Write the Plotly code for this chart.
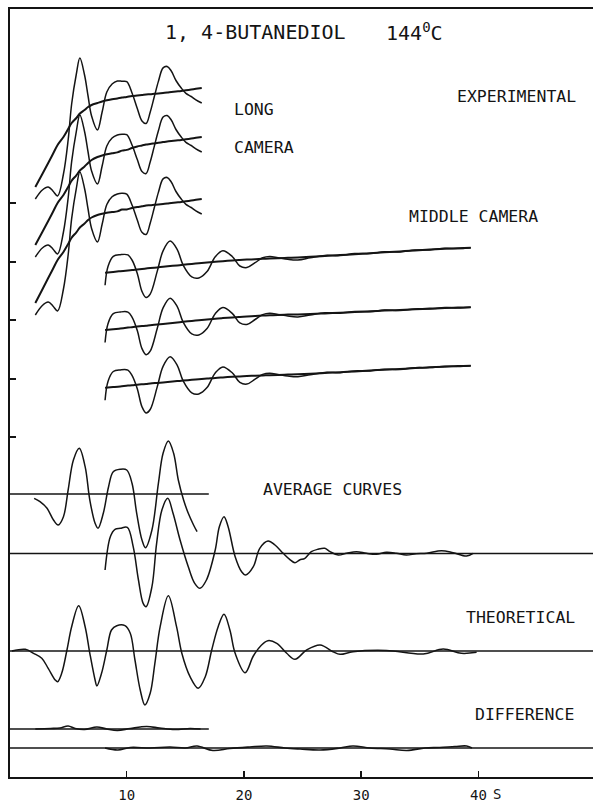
import numpy as np
import plotly.graph_objects as go

# ---------------- data (vertical units: arbitrary) ----------------
# Long camera: three experimental plates, total intensity = background + molecular part
long_s = [2.2, 2.8, 3.3, 3.7, 4.1, 4.6, 5.0, 5.3, 5.7, 6.0, 6.4, 6.7, 7.0, 7.5, 7.9, 8.3, 8.75, 9.2,
          9.6, 10.0, 10.45, 10.9, 11.3, 11.65, 12.0, 12.35, 12.7, 13.1, 13.45, 13.8, 14.2, 14.65,
          15.05, 15.5, 15.9, 16.4]
long_mol = [-12, -16, -24, -37, -51, -37, -11, 19, 44, 55.5, 35, 11, -11, -27, -10.5, 8.3, 15.3, 17.4,
            16.3, 15.2, 3, -13, -26, -29, -18, -3, 12, 25, 26, 21, 11, 3, -3, -7, -11, -15]
long_bg1 = [590, 603, 614, 623, 632, 640, 648, 654, 659, 663.5, 667, 670, 672, 674, 675.5, 676.7, 677.7,
            678.6, 679.4, 680.1, 681, 681.5, 682, 682.5, 682.8, 683.2, 683.6, 684.1, 684.5, 685, 685.5,
            686, 686.7, 687.5, 688.2, 689]
long_bg2 = [532, 545, 556, 565, 574, 582, 590, 596.3, 601.7, 606.5, 610.5, 614, 617, 620, 621.5, 622.7,
            623.7, 624.6, 626.4, 627.1, 629, 630.5, 631.5, 632.5, 633, 633.6, 634.2, 634.9, 635.5, 636,
            636.5, 637, 637.7, 638.5, 639.2, 640]
long_bg3 = [474, 487.5, 499, 508, 517, 525, 533, 539.3, 544.7, 549.5, 553.5, 557, 559.5, 562, 563.2,
            564.2, 564.9, 565.6, 567.4, 567.6, 569, 570, 570.7, 571.5, 571.8, 572.2, 572.6, 573.1, 573.5,
            574, 574.5, 575, 575.7, 576.5, 577.2, 578]

# Middle camera: three experimental plates
mid_s = [8.15, 8.4, 8.85, 9.45, 10.1, 10.45, 10.9, 11.3, 11.65, 12.0, 12.6, 13.1, 13.7, 14.3, 14.8,
         15.55, 16.15, 16.85, 17.55, 18.2, 19.0, 19.65, 20.25, 20.95, 21.6, 22.2, 22.9, 23.75, 24.6,
         25.65, 26.9, 28.2, 29.45, 30.75, 32.0, 33.3, 34.6, 35.85, 37.15, 38.25, 39.35]
mid_mol = [-12.5, 6, 15.5, 16.5, 15.5, 10, -4, -22.5, -29, -26, -4, 16, 25, 16, 0, -13, -14.7, -9, 5,
           10.5, 4, -6, -8, -3.5, 1, 2, 0.5, -1.5, -2.5, -1, 0.6, -0.5, 0.6, -0.4, 0.5, -0.5, 0.4,
           -0.3, 0.5, -0.4, 0]
mid_bg1 = [504.3, 504.6, 505.1, 505.8, 506.6, 507.0, 507.6, 508.1, 508.5, 508.9, 509.6, 510.2, 510.9,
           511.6, 512.2, 513.1, 513.8, 514.5, 515.2, 515.8, 516.5, 517.0, 517.4, 517.8, 518.2, 518.5,
           518.8, 519.2, 519.6, 520.2, 521.0, 521.9, 522.8, 523.8, 524.7, 525.6, 526.5, 527.4, 528.2,
           528.8, 529.3]
mid_bg2 = [447.0, 447.3, 447.8, 448.5, 449.4, 449.8, 450.4, 450.9, 451.3, 451.8, 452.5, 453.1, 453.8,
           454.6, 455.2, 456.1, 456.8, 457.5, 458.3, 458.9, 459.6, 460.1, 460.5, 461.0, 461.4, 461.7,
           462.1, 462.4, 462.6, 463.0, 463.6, 464.3, 464.9, 465.7, 466.4, 467.0, 467.7, 468.4, 468.9,
           469.4, 469.7]
mid_bg3 = [389.3, 389.6, 390.0, 390.6, 391.4, 391.7, 392.3, 392.7, 393.0, 393.5, 394.1, 394.6, 395.2,
           395.9, 396.4, 397.2, 397.8, 398.4, 399.1, 399.6, 400.2, 400.6, 400.9, 401.3, 401.6, 401.8,
           402.1, 402.5, 402.8, 403.3, 404.0, 404.8, 405.5, 406.5, 407.3, 408.0, 408.9, 409.7, 410.3,
           410.9, 411.3]

# Average curves (values relative to their own base lines)
avgL_base = 283
avgL_s = [2.1, 2.6, 3.2, 3.75, 4.15, 4.6, 5.0, 5.45, 5.95, 6.45, 6.85, 7.3, 7.55, 8.0, 8.45, 8.85,
          9.45, 10.0, 10.45, 10.85, 11.3, 11.6, 12.15, 12.7, 13.1, 13.55, 14.0, 14.4, 14.85, 15.25,
          15.7, 16.0]
avgL_val = [-4.3, -7.7, -14.3, -26, -31, -22.7, 4, 34, 45.7, 27.3, -6, -29.3, -34.3, -19.3, 7.3, 22.3,
            24.7, 24, 10.7, -19.3, -46, -53.7, -36, 10.7, 40.7, 53, 40.7, 14, -6, -19.3, -31, -37.7]

avgM_base = 223.5
avgM_s = [8.15, 8.6, 9.0, 9.45, 10.05, 10.55, 11.0, 11.4, 11.65, 12.15, 12.55, 13.0, 13.5, 13.95,
          14.55, 15.25, 15.8, 16.25, 16.8, 17.55, 17.9, 18.3, 18.65, 19.25, 19.8, 20.15, 20.8, 21.35,
          22.05, 22.65, 23.35, 23.9, 24.35, 24.75, 25.2, 25.75, 26.3, 26.9, 27.35, 28.05, 28.75, 29.6,
          30.45, 31.3, 32.15, 33.0, 33.85, 34.7, 35.6, 36.85, 37.85, 39.0, 39.55]
avgM_val = [-16.5, 16.8, 24.2, 25.2, 26.2, 6.8, -26.5, -49.8, -53.2, -33.2, 10.2, 43.5, 55.2, 40.2,
            13.5, -13.2, -29.8, -34.8, -26.5, 3.5, 26.8, 36.8, 26.8, -3.2, -18.2, -21.5, -13.2, 5.2,
            12.5, 8.5, 0.2, -5.8, -9.2, -6.5, -4.8, 1.8, 4.2, 5.2, 1.8, -1.5, 0.2, 1.8, 0.2, -0.8, 1.2,
            0.3, -1.5, -0.3, 0.2, 2.8, 0.8, -2.5, 0.2]

# Theoretical curve
theo_base = 126
theo_s = [0.2, 1.35, 2.05, 2.75, 3.3, 3.9, 4.1, 4.45, 4.9, 5.3, 5.9, 6.45, 6.85, 7.3, 7.45, 7.85, 8.3,
          8.7, 9.15, 9.85, 10.3, 10.7, 11.15, 11.55, 12.0, 12.4, 12.85, 13.55, 14.25, 14.7, 15.4, 16.1,
          16.7, 17.25, 17.8, 18.3, 18.8, 19.25, 20.1, 20.8, 21.5, 22.05, 22.8, 23.65, 24.35, 25.35,
          26.5, 27.6, 28.2, 29.3, 32.15, 35.3, 37.0, 38.55, 39.85]
theo_val = [0, 1.7, -2.3, -7.3, -17.3, -29, -30.7, -22.3, 1, 24.3, 45.3, 24.3, -2.3, -29, -35, -22.3,
            1, 21, 25.3, 25.3, 17.7, -9, -39, -54, -42.3, -12.3, 24.3, 55.3, 24.3, -2.3, -25.7, -37.3,
            -25.7, 1, 24.3, 36.7, 21, -2.3, -21.7, -5, 6, 10.3, 7.7, -2.3, -8.3, 1, 6, -0.7, -3.3,
            -0.7, 0.5, -3, 2, -2.3, -1.3]

# Difference curves
diffL_base = 48
diffL_s = [2.2, 3.5, 4.3, 5.0, 5.6, 6.4, 7.45, 8.3, 9.2, 10.3, 11.7, 12.8, 14.1, 15.4, 16.3]
diffL_val = [0, 0.5, 1, 3, 0.5, -0.5, 2, 0, -1.5, 0.5, 2.5, 1, -0.5, 0.5, 0]
diffM_base = 29
diffM_s = [8.15, 9.25, 10.3, 12.0, 13.7, 15.0, 16.0, 17.35, 18.8, 20.5, 21.95, 23.5, 24.8, 26.5,
           28.2, 29.3, 30.75, 32.45, 33.9, 35.45, 36.7, 38.0, 39.0, 39.45]
diffM_val = [0, -2, 0.5, 0, 1, 0, 2, -2.5, -0.5, 1, 2, 0, -1, -2, 0, 2, 0, -1, -2.5, 0, 0.5, 1.5, 2, 0]

# base-line extents (s)
short_base_end = 17.0
x_range = [0.04, 49.78]
y_ticks = [340, 398, 457, 515, 574]
x_ticks = [10, 20, 30, 40]
x_ticktext = ["10", "20", "30", "40"]

# ---------------- figure ----------------
INK = "#141414"
FONT = "DejaVu Sans Mono"
fig = go.Figure()


def curve(xs, ys, w=1.5):
    fig.add_trace(go.Scatter(x=xs, y=ys, mode="lines", line=dict(color=INK, width=w, shape="spline"),
                             hoverinfo="skip", showlegend=False))


def straight(x0, x1, yv, w=1.7):
    fig.add_trace(go.Scatter(x=[x0, x1], y=[yv, yv], mode="lines", line=dict(color=INK, width=w),
                             hoverinfo="skip", showlegend=False))


mol_l = np.array(long_mol)
for bg in (long_bg1, long_bg2, long_bg3):
    curve(long_s, np.array(bg) + mol_l, 1.5)
    curve(long_s, bg, 2.0)

mol_m = np.array(mid_mol)
for bg in (mid_bg1, mid_bg2, mid_bg3):
    curve(mid_s, np.array(bg) + mol_m, 1.5)
    curve(mid_s, bg, 2.0)

straight(x_range[0], short_base_end, avgL_base)
curve(avgL_s, avgL_base + np.array(avgL_val))
straight(x_range[0], x_range[1], avgM_base)
curve(avgM_s, avgM_base + np.array(avgM_val))

straight(x_range[0], x_range[1], theo_base)
curve(theo_s, theo_base + np.array(theo_val))

straight(x_range[0], short_base_end, diffL_base)
curve(diffL_s, diffL_base + np.array(diffL_val), 1.6)
straight(x_range[0], x_range[1], diffM_base)
curve(diffM_s, diffM_base + np.array(diffM_val), 1.6)

labels = [
    ("1, 4-BUTANEDIOL", 13.1, 745, 20),
    ("144<sup>0</sup>C", 31.94, 745, 20),
    ("LONG", 18.98, 668, 16.5),
    ("CAMERA", 18.98, 630, 16.5),
    ("EXPERIMENTAL", 38.0, 681, 16.5),
    ("MIDDLE CAMERA", 33.9, 561, 16.5),
    ("AVERAGE CURVES", 21.45, 288, 16.5),
    ("THEORETICAL", 38.76, 160, 16.5),
    ("DIFFERENCE", 39.52, 63, 16.5),
]
for txt, xv, yv, fs in labels:
    fig.add_annotation(x=xv, y=yv, xref="x", yref="y", text=txt, showarrow=False,
                       xanchor="left", yanchor="middle",
                       font=dict(family=FONT, size=fs, color=INK))

# unit label next to the last tick
fig.add_annotation(x=41.6, y=-17 / 768, xref="x", yref="paper", text="S", showarrow=False,
                   xanchor="center", yanchor="middle", font=dict(family=FONT, size=14, color=INK))

fig.update_layout(
    width=593, height=802,
    margin=dict(l=10, r=0, t=9, b=25),
    paper_bgcolor="white", plot_bgcolor="white",
    showlegend=False,
    font=dict(family=FONT, color=INK),
    xaxis=dict(range=x_range, showgrid=False, zeroline=False, showline=True, mirror=True,
               linecolor=INK, linewidth=1.6, ticks="inside", ticklen=6, tickwidth=1.4,
               tickcolor=INK, tickvals=x_ticks, ticktext=x_ticktext, automargin=False,
               tickfont=dict(family=FONT, size=14, color=INK), ticklabelstandoff=5),
    yaxis=dict(range=[0, 768], showgrid=False, zeroline=False, showline=True, linecolor=INK,
               linewidth=1.6, ticks="inside", ticklen=6, tickwidth=1.4, tickcolor=INK,
               tickvals=y_ticks, showticklabels=False, automargin=False),
)

fig.write_html(
    "out.html",
    config={"displayModeBar": False, "staticPlot": True},
    post_script="document.body.style.margin='0px';document.body.style.overflow='hidden';",
)
